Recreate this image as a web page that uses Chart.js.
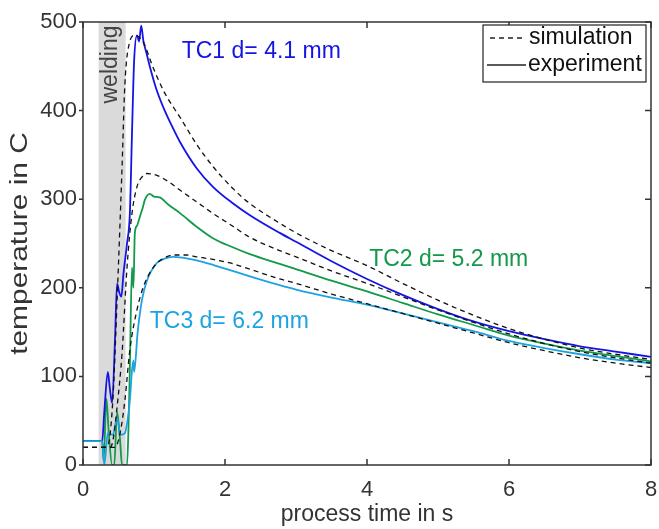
<!DOCTYPE html>
<html>
<head>
<meta charset="utf-8">
<script src="https://cdn.jsdelivr.net/npm/chart.js@4.4.1/dist/chart.umd.min.js"></script>
<style>
  html, body { margin: 0; padding: 0; background: #fff; }
  #wrap { width: 659px; height: 529px; }
</style>
</head>
<body>
<div id="wrap"><canvas id="chart" width="659" height="529"></canvas></div>
<script>
// simulation (dashed) curves
const sim1Time = [0, 0.3, 0.35, 0.42, 0.48, 0.55, 0.59, 0.65, 0.73, 0.85, 0.99, 1.15, 1.37, 1.6, 1.83, 2.1, 2.35, 2.77, 3, 3.5, 4, 4.5, 5, 5.5, 6, 6.5, 7, 7.5, 8];
const sim1Temp = [20, 20, 22, 73, 186, 336, 430, 475, 485, 477, 448, 420, 392, 362, 337, 313, 295, 273, 262, 242, 225, 205, 186, 169, 154, 142, 132, 125, 119];
const sim2Time = [0, 0.38, 0.42, 0.49, 0.55, 0.62, 0.69, 0.76, 0.83, 0.9, 1.04, 1.2, 1.37, 1.6, 1.83, 2.1, 2.35, 2.77, 3, 3.5, 4, 4.5, 5, 5.5, 6, 6.5, 7, 7.5, 8];
const sim2Temp = [20, 20, 27, 73, 126, 223, 284, 314, 325, 329, 327, 320, 310, 297, 284, 270, 257, 242, 235, 219, 205, 190, 175, 161, 148, 137, 128, 121, 115];
const sim3Time = [0, 0.45, 0.52, 0.59, 0.66, 0.76, 0.85, 0.99, 1.13, 1.27, 1.45, 1.6, 1.83, 2.07, 2.35, 2.77, 3, 3.5, 4, 4.5, 5, 5.5, 6, 6.5, 7, 7.5, 8];
const sim3Temp = [20, 20, 35, 73, 130, 175, 201, 223, 233, 237, 237, 235, 232, 228, 221, 210, 205, 193, 182, 171, 160, 149, 138, 129, 121, 115, 110];

// measured thermocouples
const tc1Time = [0, 0.27, 0.3, 0.35, 0.38, 0.41, 0.45, 0.48, 0.51, 0.54, 0.57, 0.62, 0.66, 0.69, 0.72, 0.76, 0.79, 0.82, 0.85, 0.9, 0.94, 1.03, 1.13, 1.25, 1.37, 1.6, 1.83, 2.1, 2.35, 2.77, 3, 3.5, 4, 4.5, 5, 5.5, 6, 6.5, 7, 7.5, 8];
const tc1Temp = [27, 27, 60, 105, 85, 70, 140, 205, 195, 190, 216, 250, 284, 374, 456, 485, 478, 496, 479, 463, 450, 425, 404, 383, 364, 335, 314, 296, 282, 262, 252, 230, 210, 192, 176, 162, 151, 142, 134, 128, 122];
const tc2Time = [0, 0.27, 0.29, 0.33, 0.36, 0.41, 0.44, 0.48, 0.52, 0.55, 0.62, 0.64, 0.66, 0.69, 0.71, 0.73, 0.76, 0.8, 0.84, 0.87, 0.94, 1.0, 1.08, 1.2, 1.37, 1.6, 1.83, 2.1, 2.35, 2.77, 3, 3.5, 4, 4.5, 5, 5.5, 6, 6.5, 7, 7.5, 8];
const tc2Temp = [27, 27, 5, 75, 40, 0, 0, 60, 30, 0, 0, 40, 110, 223, 200, 262, 270, 280, 290, 299, 306, 303, 302, 294, 284, 269, 256, 246, 238, 227, 221, 208, 196, 183, 170, 158, 146, 137, 129, 123, 117];
const tc3Time = [0, 0.27, 0.3, 0.35, 0.42, 0.48, 0.53, 0.59, 0.64, 0.66, 0.69, 0.71, 0.72, 0.77, 0.83, 0.9, 1.04, 1.15, 1.27, 1.4, 1.6, 1.83, 2.07, 2.35, 2.77, 3, 3.5, 4, 4.5, 5, 5.5, 6, 6.5, 7, 7.5, 8];
const tc3Temp = [27, 27, 0, 36, 34, 53, 34, 36, 58, 73, 107, 118, 105, 150, 186, 208, 228, 233, 235, 234, 231, 226, 220, 213, 203, 198, 189, 181, 171, 161, 151, 140, 132, 125, 119, 115];

const xTicks = [0, 2, 4, 6, 8];
const yTicks = [0, 100, 200, 300, 400, 500];
const weldWindow = [0.22, 0.6];

const FONT = "'Liberation Sans', Arial, Helvetica, sans-serif";
const BLUE = '#1414e6', GREEN = '#12994a', CYAN = '#1ca3e0', AXIS = '#333333';

const toPoints = (xs, ys) => xs.map((x, i) => ({ x: x, y: ys[i] }));

function simSet(xs, ys) {
    return {
        data: toPoints(xs, ys),
        borderColor: '#111',
        borderWidth: 1.3,
        borderDash: [5, 4],
        pointRadius: 0,
        cubicInterpolationMode: 'monotone',
    };
}
function expSet(xs, ys, color) {
    return {
        data: toPoints(xs, ys),
        borderColor: color,
        borderWidth: 1.8,
        pointRadius: 0,
        cubicInterpolationMode: 'monotone',
    };
}

// grey welding band, tick marks, frame, labels and legend box
const decorations = {
    id: 'decorations',
    beforeDatasetsDraw(chart) {
        const { ctx, chartArea: a, scales: { x, y } } = chart;
        const x0 = x.getPixelForValue(weldWindow[0]);
        const x1 = x.getPixelForValue(weldWindow[1]);
        ctx.save();
        ctx.fillStyle = '#dadada';
        ctx.fillRect(x0, a.top, x1 - x0, a.bottom - a.top);
        ctx.translate((x0 + x1) / 2 - 1, y.getPixelForValue(452));
        ctx.rotate(-Math.PI / 2);
        ctx.fillStyle = '#444';
        ctx.font = '23px ' + FONT;
        ctx.textAlign = 'center';
        ctx.textBaseline = 'middle';
        ctx.fillText('welding', 0, 0);
        ctx.restore();
    },
    afterDatasetsDraw(chart) {
        const { ctx, chartArea: a, scales: { x, y } } = chart;
        ctx.save();
        ctx.strokeStyle = AXIS;
        ctx.lineWidth = 1.5;
        ctx.strokeRect(a.left, a.top, a.right - a.left, a.bottom - a.top);
        ctx.beginPath();
        xTicks.forEach(v => {
            const px = x.getPixelForValue(v);
            ctx.moveTo(px, a.bottom); ctx.lineTo(px, a.bottom - 6);
            ctx.moveTo(px, a.top); ctx.lineTo(px, a.top + 6);
        });
        yTicks.forEach(v => {
            const py = y.getPixelForValue(v);
            ctx.moveTo(a.left, py); ctx.lineTo(a.left - 4, py);
            ctx.moveTo(a.right, py); ctx.lineTo(a.right - 6, py);
        });
        ctx.stroke();

        // curve labels
        ctx.font = '23px ' + FONT;
        ctx.textBaseline = 'alphabetic';
        ctx.textAlign = 'left';
        ctx.fillStyle = BLUE;
        ctx.fillText('TC1 d= 4.1 mm', x.getPixelForValue(1.39), y.getPixelForValue(459));
        ctx.fillStyle = GREEN;
        ctx.fillText('TC2 d= 5.2 mm', x.getPixelForValue(4.03), y.getPixelForValue(225));
        ctx.fillStyle = CYAN;
        ctx.fillText('TC3 d= 6.2 mm', x.getPixelForValue(0.94), y.getPixelForValue(155));

        // legend
        const lx = 483, ly = 25, lw = 163, lh = 57;
        ctx.fillStyle = '#fff';
        ctx.fillRect(lx, ly, lw, lh);
        ctx.lineWidth = 1.2;
        ctx.strokeStyle = '#222';
        ctx.strokeRect(lx, ly, lw, lh);
        ctx.lineWidth = 1.4;
        ctx.setLineDash([5, 4]);
        ctx.beginPath(); ctx.moveTo(490, 38); ctx.lineTo(526, 38); ctx.stroke();
        ctx.setLineDash([]);
        ctx.beginPath(); ctx.moveTo(487, 65); ctx.lineTo(526, 65); ctx.stroke();
        ctx.fillStyle = '#111';
        ctx.font = '23px ' + FONT;
        ctx.textBaseline = 'middle';
        ctx.fillText('simulation', 529, 38);
        ctx.fillText('experiment', 528, 65);

        // y axis title (stretched like the original)
        ctx.translate(21, (a.top + a.bottom) / 2);
        ctx.rotate(-Math.PI / 2);
        ctx.scale(1.3, 1);
        ctx.fillStyle = AXIS;
        ctx.textAlign = 'center';
        ctx.fillText('temperature in C', 0, 0);
        ctx.restore();
    }
};

new Chart(document.getElementById('chart').getContext('2d'), {
    type: 'line',
    data: {
        datasets: [
            simSet(sim1Time, sim1Temp),
            simSet(sim2Time, sim2Temp),
            simSet(sim3Time, sim3Temp),
            expSet(tc3Time, tc3Temp, CYAN),
            expSet(tc1Time, tc1Temp, BLUE),
            expSet(tc2Time, tc2Temp, GREEN),
        ],
    },
    options: {
        responsive: false,
        devicePixelRatio: 1,
        animation: false,
        layout: { padding: { top: 22, right: 8, left: 0, bottom: 0 } },
        plugins: { legend: { display: false }, tooltip: { enabled: false } },
        scales: {
            x: {
                type: 'linear',
                min: 0, max: 8,
                afterBuildTicks: s => { s.ticks = xTicks.map(v => ({ value: v })); },
                afterFit: s => { s.height = 64; s.paddingLeft = 0; s.paddingRight = 0; },
                grid: { display: false, drawTicks: false },
                border: { display: false },
                ticks: { padding: 12, color: AXIS, font: { family: FONT, size: 22 } },
                title: {
                    display: true,
                    text: 'process time in s',
                    color: AXIS,
                    font: { family: FONT, size: 23 },
                    padding: { top: 0, bottom: 1 },
                },
            },
            y: {
                min: 0, max: 500,
                afterBuildTicks: s => { s.ticks = yTicks.map(v => ({ value: v })); },
                afterFit: s => { s.width = 83; s.paddingTop = 0; s.paddingBottom = 0; },
                grid: { display: false, drawTicks: false },
                border: { display: false },
                ticks: { padding: 6, color: AXIS, font: { family: FONT, size: 22 } },
            },
        },
    },
    plugins: [decorations],
});
</script>
</body>
</html>
